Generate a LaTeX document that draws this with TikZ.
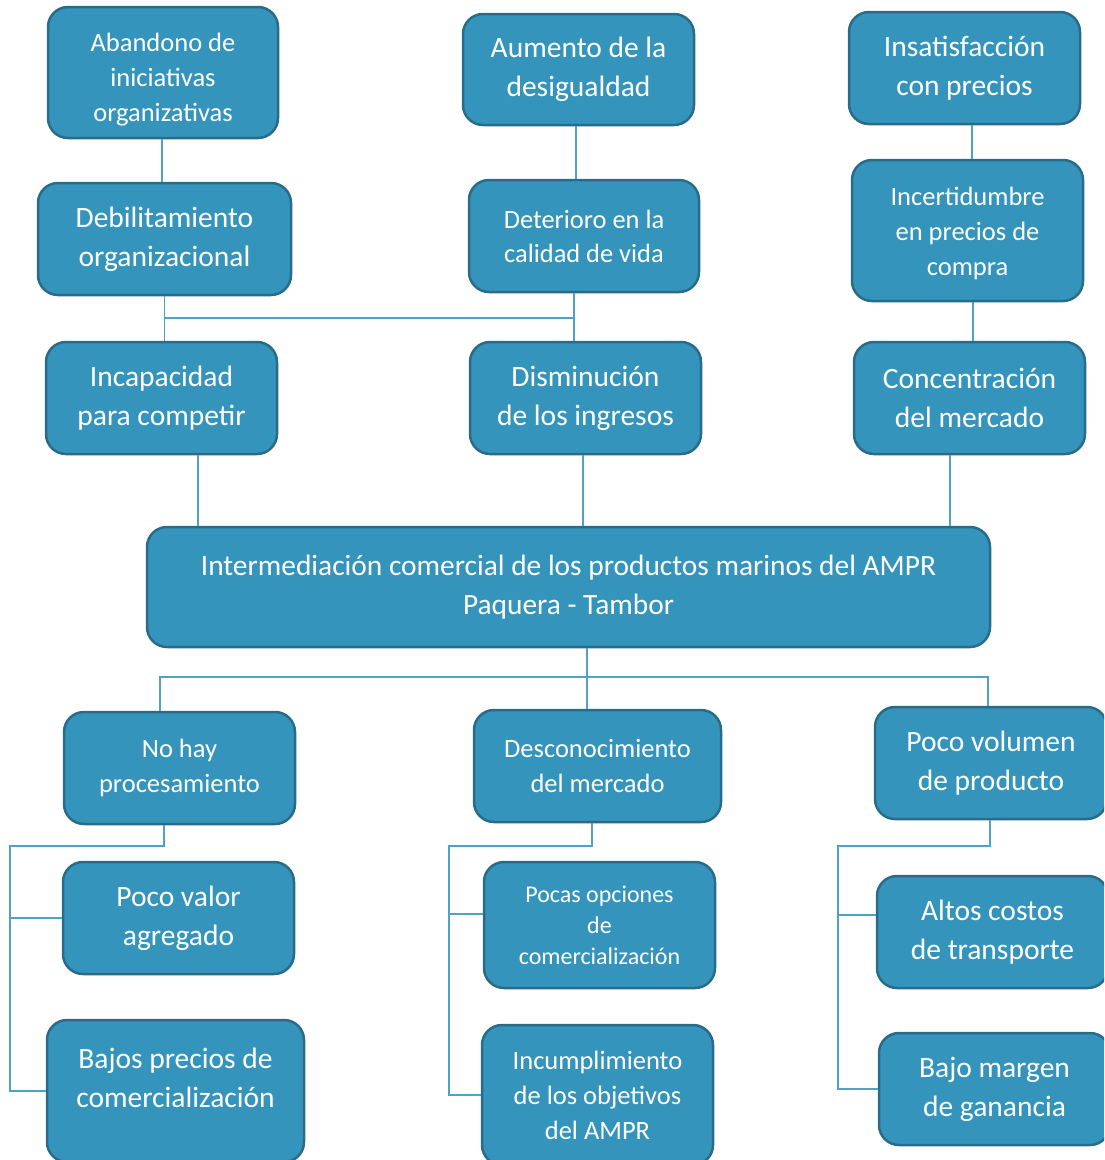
\documentclass[tikz,border=0pt]{standalone}
\usepackage{fontspec}
\setmainfont{Carlito}
\usetikzlibrary{calc}
\definecolor{relleno}{RGB}{53,148,187}
\definecolor{borde}{RGB}{41,108,138}
\definecolor{linea}{RGB}{78,162,200}
\tikzset{caja/.style n args={2}{
    draw=borde, line width=2.5pt, fill=relleno, rounded corners=20pt,
    text=white, align=center, inner sep=0pt,
    minimum width=#1, minimum height=#2
  },
  grande/.style={font=\fontsize{29.5}{39}\selectfont},
  chica/.style={font=\fontsize{26.5}{35}\selectfont},
  enlace/.style={draw=linea, line width=1.5pt}
}
\begin{document}
\begin{tikzpicture}[x=1pt,y=-1pt]
      \useasboundingbox (0,0) rectangle (1104,1160);
      \clip (0,0) rectangle (1104,1160);
      % efectos
      \node[caja={230pt}{131pt}, chica, text height=102pt] (abandono) at (163,72.5) {Abandono de\\iniciativas\\organizativas};
      \node[caja={231pt}{111pt}, grande] (aumento) at (578.5,69.5) {Aumento de la\\desigualdad};
      \node[caja={231pt}{112pt}, grande] (insatis) at (964.5,68) {Insatisfacción\\con precios};
      \node[caja={253pt}{112pt}, grande] (debilit) at (164.5,239) {Debilitamiento\\organizacional};
      \node[caja={230pt}{112pt}, font=\fontsize{26.4}{34}\selectfont] (deterioro) at (584,236) {Deterioro en la\\calidad de vida};
      \node[caja={231pt}{141pt}, chica, text height=94pt] (incert) at (967.5,230.5) {Incertidumbre\\en precios de\\compra};
      \node[caja={231pt}{112pt}, grande] (incapac) at (161.5,398) {Incapacidad\\para competir};
      \node[caja={231pt}{112pt}, grande] (dismin) at (585.5,398) {Disminución\\de los ingresos};
      \node[caja={231pt}{112pt}, grande] (concent) at (969.5,398) {Concentración\\del mercado};
      % problema central
      \node[caja={843pt}{120pt}, font=\fontsize{29.4}{39}\selectfont] (central) at (568.5,587) {Intermediación comercial de los productos marinos del AMPR\\Paquera - Tambor};
      % causas
      \node[caja={231pt}{112pt}, chica] (nohay) at (179.5,768) {No hay\\procesamiento};
      \node[caja={247pt}{112pt}, chica] (descon) at (597.5,766) {Desconocimiento\\del mercado};
      \node[caja={232pt}{112pt}, grande] (pocovol) at (991,763) {Poco volumen\\de producto};
      \node[caja={231pt}{112pt}, grande] (pocoval) at (178.5,918) {Poco valor\\agregado};
      \node[caja={231pt}{126pt}, font=\fontsize{24}{31}\selectfont] (pocasop) at (599.5,925) {Pocas opciones\\de\\comercialización};
      \node[caja={231pt}{112pt}, grande] (altos) at (992.5,932) {Altos costos\\de transporte};
      \node[caja={257pt}{142pt}, grande, text depth=26pt] (bajosp) at (175.5,1091) {Bajos precios de\\comercialización};
      \node[caja={231pt}{140pt}, chica] (incumpl) at (597.5,1095) {Incumplimiento\\de los objetivos\\del AMPR};
      \node[caja={231pt}{112pt}, grande] (bajomarg) at (994.5,1089) {Bajo margen\\de ganancia};
      % enlaces de arriba
      \coordinate (nudoA) at (165,318);
      \coordinate (nudoB) at (574,318);
      \draw[enlace] ([xshift=-1pt]abandono.south) -- ([xshift=-1pt]abandono.south |- debilit.north);
      \draw[enlace] ([xshift=-2.5pt]aumento.south) -- ([xshift=-2.5pt]aumento.south |- deterioro.north);
      \draw[enlace] ([xshift=7.5pt]insatis.south) -- ([xshift=7.5pt]insatis.south |- incert.north);
      \draw[enlace] (debilit.south) -- (debilit.south |- incapac.north);
      \draw[enlace] (nudoB |- deterioro.south) -- (nudoB |- dismin.north);
      \draw[enlace] (nudoA) -- (nudoB);
      \draw[enlace] ([xshift=5.5pt]incert.south) -- ([xshift=5.5pt]incert.south |- concent.north);
      \draw[enlace] ([xshift=36.5pt]incapac.south) -- ([xshift=36.5pt]incapac.south |- central.north);
      \draw[enlace] ([xshift=-2.5pt]dismin.south) -- ([xshift=-2.5pt]dismin.south |- central.north);
      \draw[enlace] ([xshift=-19.5pt]concent.south) -- ([xshift=-19.5pt]concent.south |- central.north);
      % enlaces de abajo
      \coordinate (ramal) at (587,677);
      \draw[enlace] (ramal |- central.south) -- (ramal);
      \draw[enlace] ([xshift=-19.5pt]nohay.north) |- (ramal) -| ([xshift=-3pt]pocovol.north);
      \draw[enlace] (ramal) -- (ramal |- descon.north);
      % corchetes
      \coordinate (izq) at (10,846);
      \coordinate (medio) at (449,846);
      \coordinate (der) at (838,846);
      \draw[enlace] ([xshift=-15.5pt]nohay.south) |- (izq) |- (bajosp.west);
      \draw[enlace] (izq |- pocoval.west) -- (pocoval.west);
      \draw[enlace] ([xshift=-5.5pt]descon.south) |- (medio) |- (incumpl.west);
      \draw[enlace] (medio |- 0,914) -- (pocasop.west |- 0,914);
      \draw[enlace] ([xshift=-1pt]pocovol.south) |- (der) |- (bajomarg.west);
      \draw[enlace] (der |- 0,915) -- (altos.west |- 0,915);
\end{tikzpicture}
\end{document}
